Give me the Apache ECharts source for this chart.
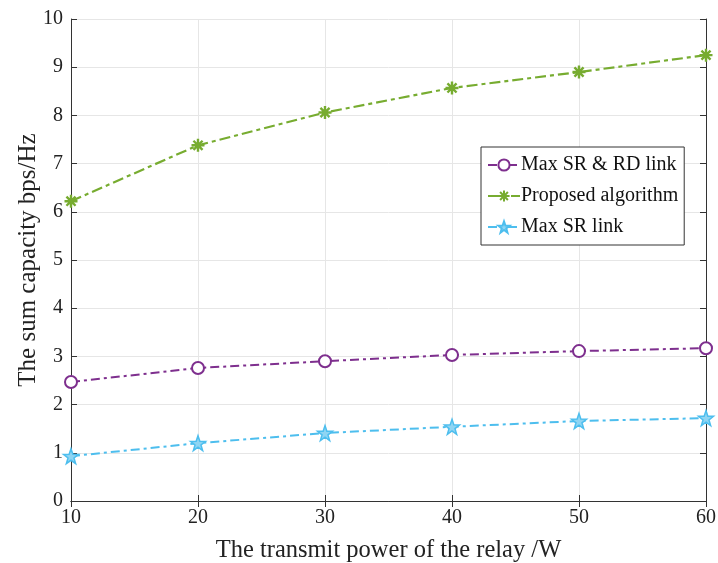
<!DOCTYPE html>
<html>
<head>
<meta charset="utf-8">
<script src="https://cdn.jsdelivr.net/npm/echarts@6/dist/echarts.min.js"></script>
<style>
  html, body { margin: 0; padding: 0; background: #fff; }
  #chart { width: 718px; height: 563px; }
</style>
</head>
<body>
<div id="chart"></div>
<script>
// Relay transmit power (W)
const powers = [10, 20, 30, 40, 50, 60];
// Sum capacity (bps/Hz) for each scheme
const maxSrRd = [2.47, 2.76, 2.90, 3.03, 3.11, 3.17];
const proposed = [6.22, 7.38, 8.06, 8.57, 8.90, 9.25];
const maxSr = [0.93, 1.20, 1.41, 1.54, 1.66, 1.72];

const seriesNames = ['Max SR & RD link', 'Proposed algorithm', 'Max SR link'];
const seriesColors = ['#7E2F8E', '#77AC30', '#4DBEEE'];

const FONT = 'Liberation Serif';

const asterisk = 'path://M0,-10L0,10M-10,0L10,0M-7,-7L7,7M-7,7L7,-7';
const star = 'path://M0,-10L2.35,-3.24L9.51,-3.09L3.8,1.24L5.88,8.09L0,4L-5.88,8.09L-3.8,1.24L-9.51,-3.09L-2.35,-3.24Z';

const chart = echarts.init(document.getElementById('chart'));

function pairs(vals) { return powers.map((p, i) => [p, vals[i]]); }

const dashDot = [9, 4, 3, 4];

chart.setOption({
  animation: false,
  backgroundColor: '#fff',
  grid: { left: 71, right: 12, top: 19, bottom: 62, containLabel: false, outerBoundsMode: 'none' },
  legend: {
    left: 481, top: 147, width: 203,
    orient: 'vertical',
    backgroundColor: '#fff',
    borderColor: '#333', borderWidth: 1,
    padding: [8, 6, 8, 6],
    itemGap: 11,
    itemWidth: 32, itemHeight: 14,
    textStyle: { fontFamily: FONT, fontSize: 20, color: '#111', padding: [0, 0, 0, -4] },
    data: seriesNames
  },
  xAxis: [{
    type: 'value', min: 10, max: 60, interval: 10,
    name: 'The transmit power of the relay /W',
    nameLocation: 'middle', nameGap: 37, nameMoveOverlap: false,
    nameTextStyle: { fontFamily: FONT, fontSize: 24.5, color: '#222' },
    axisLine: { lineStyle: { color: '#333', width: 1 } },
    axisTick: { inside: true, length: 6, lineStyle: { color: '#333' } },
    axisLabel: { fontFamily: FONT, fontSize: 20, color: '#222', margin: 7 },
    splitLine: { show: true, lineStyle: { color: '#e6e6e6', width: 1 } }
  }, {
    type: 'value', min: 10, max: 60, interval: 10, position: 'top',
    axisLine: { lineStyle: { color: '#333', width: 1 } },
    axisTick: { inside: true, length: 6, lineStyle: { color: '#333' } },
    axisLabel: { show: false }, splitLine: { show: false }
  }],
  yAxis: [{
    type: 'value', min: 0, max: 10, interval: 1,
    name: 'The sum capacity bps/Hz',
    nameLocation: 'middle', nameGap: 30, nameMoveOverlap: false,
    nameTextStyle: { fontFamily: FONT, fontSize: 25, color: '#222' },
    axisLine: { show: true, lineStyle: { color: '#333', width: 1 } },
    axisTick: { show: true, inside: true, length: 6, lineStyle: { color: '#333' } },
    axisLabel: { fontFamily: FONT, fontSize: 20, color: '#222', margin: 8 },
    splitLine: { show: true, lineStyle: { color: '#e6e6e6', width: 1 } }
  }, {
    type: 'value', min: 0, max: 10, interval: 1, position: 'right',
    axisLine: { show: true, lineStyle: { color: '#333', width: 1 } },
    axisTick: { show: true, inside: true, length: 6, lineStyle: { color: '#333' } },
    axisLabel: { show: false }, splitLine: { show: false }
  }],
  series: [
    {
      name: seriesNames[0], type: 'line', data: pairs(maxSrRd),
      symbol: 'emptyCircle', symbolSize: 12, showAllSymbol: true,
      lineStyle: { color: seriesColors[0], width: 2, type: dashDot },
      itemStyle: { color: seriesColors[0], borderColor: seriesColors[0], borderWidth: 1.8 }
    },
    {
      name: seriesNames[1], type: 'line', data: pairs(proposed),
      symbol: asterisk, symbolSize: 13,
      lineStyle: { color: seriesColors[1], width: 2.2, type: [11, 4, 4, 4] },
      itemStyle: { color: seriesColors[1], borderColor: seriesColors[1], borderWidth: 2.4 }
    },
    {
      name: seriesNames[2], type: 'line', data: pairs(maxSr),
      symbol: star, symbolSize: 15,
      lineStyle: { color: seriesColors[2], width: 2, type: dashDot },
      itemStyle: { color: '#8fd5f3', borderColor: seriesColors[2], borderWidth: 1.5 }
    }
  ]
});
</script>
</body>
</html>
